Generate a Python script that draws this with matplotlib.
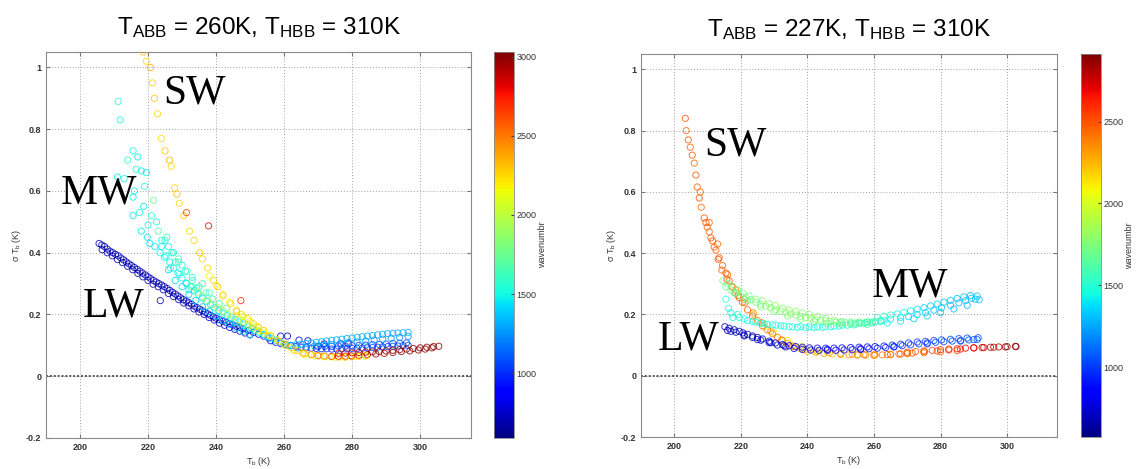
import matplotlib
matplotlib.use("Agg")
import matplotlib.pyplot as plt
from matplotlib import cm
from matplotlib.colors import Normalize

plt.rcParams["font.family"] = ["Liberation Sans", "DejaVu Sans"]
plt.rcParams["mathtext.fontset"] = "custom"
plt.rcParams["mathtext.rm"] = "Liberation Sans"
plt.rcParams["mathtext.it"] = "Liberation Sans"

# ================= left panel: T_ABB = 260K =================
# SW channels (main chain + outliers + yellow under the tail)
left_sw_tb = [218.6, 219.5, 220.7, 221.3, 221.9, 222.8, 223.9, 225.0, 226.3, 226.8, 227.8, 228.5,
              229.2, 230.5, 232.2, 233.5, 235.2, 236.0, 237.5, 239.3, 240.5, 242.0, 244.3, 246.0,
              247.5, 249.3, 251.0, 252.5, 254.0, 256.0, 258.5, 260.5, 263.0, 265.5, 268.0, 270.0,
              271.8, 274.0, 276.0, 278.0, 279.8, 282.0, 284.5, 287.0, 289.5, 292.0, 294.5, 297.0,
              299.5, 301.5, 303.5, 305.5, 231.3, 237.8, 247.3, 266.0, 269.0, 272.0, 275.0, 278.0,
              281.0, 284.0]
left_sw_sig = [1.05, 1.02, 1.0, 0.95, 0.9, 0.85, 0.77, 0.73, 0.70, 0.68, 0.61, 0.59,
               0.56, 0.52, 0.47, 0.44, 0.40, 0.38, 0.35, 0.31, 0.29, 0.26, 0.235, 0.21,
               0.20, 0.187, 0.17, 0.158, 0.148, 0.13, 0.113, 0.10, 0.084, 0.075, 0.07, 0.067,
               0.065, 0.064, 0.065, 0.065, 0.066, 0.068, 0.07, 0.072, 0.074, 0.077, 0.08, 0.082,
               0.085, 0.088, 0.092, 0.097, 0.53, 0.487, 0.245, 0.07, 0.066, 0.063, 0.062, 0.062,
               0.064, 0.066]
left_sw_wn = [2300, 2250, 2350, 2250, 2300, 2250, 2250, 2300, 2350, 2250, 2250, 2300,
              2250, 2300, 2250, 2250, 2300, 2250, 2250, 2250, 2300, 2250, 2250, 2300,
              2250, 2250, 2250, 2300, 2250, 2250, 2250, 2300, 2300, 2350, 2450, 2550,
              2650, 2750, 2800, 2850, 2900, 2900, 2950, 2950, 2950, 3000, 3000, 3000,
              3000, 3000, 3000, 3000, 2650, 2800, 2700, 2200, 2200, 2150, 2200, 2250,
              2200, 2250]
left_sw2_tb = [238, 240, 242, 244, 246, 248, 250, 252, 254, 256, 258, 260,
               262, 264, 266, 268, 270, 272, 274, 276, 278, 280, 282, 284]
left_sw2_sig = [0.325, 0.295, 0.265, 0.24, 0.215, 0.195, 0.178, 0.162, 0.148, 0.133, 0.118, 0.105,
                0.092, 0.083, 0.075, 0.07, 0.066, 0.064, 0.063, 0.062, 0.062, 0.063, 0.064, 0.066]
left_sw2_wn = [2200, 2150, 2200, 2150, 2200, 2150, 2200, 2150, 2200, 2150, 2200, 2250,
               2200, 2250, 2300, 2250, 2300, 2250, 2200, 2300, 2250, 2300, 2250, 2300]
left_sw3_tb = [276, 278, 280, 282, 284, 286, 288, 290, 292, 294, 296, 298, 300, 302, 304]
left_sw3_sig = [0.074, 0.075, 0.076, 0.077, 0.078, 0.079, 0.08, 0.082, 0.084, 0.086, 0.088,
                0.09, 0.092, 0.094, 0.096]
left_sw3_wn = [2850, 2900, 2900, 2950, 2950, 3000, 3000, 3000, 3000, 3000, 3000,
               3000, 3000, 3000, 3000]

# MW channels: scattered points at low Tb, cyan band, green band, light blue tail
left_mw_tb = [211.2, 211.8, 215.6, 217.0, 214.0, 218.0, 211.0, 219.0, 215.6, 221.6, 218.7, 215.6,
              220.0, 223.0, 219.8, 224.0, 222.0, 224.8, 226.6, 228.0, 229.2, 231.3, 234.3,
              216.0, 217.5, 218.0, 221.0, 222.5, 220.5, 223.5, 225.5, 226.0, 227.5, 229.0, 230.0,
              231.5, 233.0, 232.0, 236.0, 238.0, 213.0, 216.5, 219.5]
left_mw_sig = [0.89, 0.83, 0.73, 0.71, 0.70, 0.665, 0.645, 0.615, 0.58, 0.57, 0.55, 0.52,
               0.49, 0.47, 0.45, 0.44, 0.42, 0.385, 0.35, 0.37, 0.33, 0.30, 0.285,
               0.60, 0.53, 0.47, 0.52, 0.50, 0.43, 0.40, 0.45, 0.42, 0.40, 0.38, 0.36,
               0.34, 0.32, 0.28, 0.30, 0.27, 0.64, 0.67, 0.66]
left_mw_wn = [1550, 1500, 1500, 1450, 1550, 1450, 1450, 1500, 1450, 1750, 1450, 1450,
              1500, 1650, 1450, 1550, 1450, 1500, 1550, 1700, 1500, 1600, 1500,
              1450, 1500, 1450, 1550, 1500, 1450, 1500, 1600, 1500, 1550, 1650, 1500,
              1600, 1550, 1450, 1700, 1650, 1500, 1550, 1450]
left_cyan_tb = [224, 225.2, 226.4, 227.6, 228.8, 230, 231.2, 232.4, 233.6, 234.8, 236, 237.2,
                238.4, 239.6, 240.8, 242, 243.2, 244.4, 245.6, 246.8, 248, 249.2, 250.4, 251.6,
                252.8, 254, 255.2, 256.4, 257.6, 258.8, 260, 261.2,
                226, 228, 230, 232, 234, 236, 238, 240, 242, 244, 246, 248, 250,
                225, 227, 229, 231, 233, 235, 237, 239, 241, 243]
left_cyan_sig = [0.42, 0.39, 0.37, 0.35, 0.335, 0.318, 0.302, 0.29, 0.277, 0.265, 0.253, 0.242,
                 0.232, 0.222, 0.213, 0.205, 0.197, 0.19, 0.183, 0.176, 0.169, 0.162, 0.155, 0.148,
                 0.141, 0.135, 0.128, 0.122, 0.116, 0.11, 0.104, 0.1,
                 0.345, 0.31, 0.29, 0.265, 0.245, 0.225, 0.21, 0.195, 0.18, 0.168, 0.156, 0.145,
                 0.135,
                 0.44, 0.40, 0.37, 0.34, 0.31, 0.29, 0.27, 0.25, 0.235, 0.22]
left_cyan_wn = [1450, 1500, 1450, 1500, 1450, 1500, 1450, 1500, 1450, 1500, 1450, 1500,
                1450, 1500, 1450, 1500, 1450, 1500, 1450, 1500, 1450, 1500, 1450, 1450,
                1450, 1400, 1450, 1400, 1400, 1400, 1400, 1400,
                1400, 1400, 1400, 1400, 1400, 1400, 1400, 1400, 1400, 1400, 1400, 1400, 1400,
                1550, 1550, 1550, 1600, 1550, 1600, 1600, 1600, 1650, 1650]
left_green_tb = [233, 234.5, 236, 237.5, 239, 240.5, 242, 243.5, 245, 246.5, 248, 249.5,
                 251, 252.5, 254, 255.5]
left_green_sig = [0.29, 0.272, 0.258, 0.245, 0.233, 0.222, 0.212, 0.202, 0.192, 0.183, 0.175,
                  0.166, 0.157, 0.148, 0.14, 0.132]
left_green_wn = [1750, 1800, 1800, 1850, 1850, 1900, 1900, 1950, 1950, 2000, 2000, 2050,
                 2050, 2100, 2100, 2150]
left_mwtail_tb = [262, 263.5, 265, 266.5, 268, 269.5, 271, 272.5, 274, 275.5, 277, 278.5,
                  280, 281.5, 283, 284.5, 286, 287.5, 289, 290.5, 292, 293.5, 295, 296.5,
                  264, 266.5, 269, 271.5, 274, 276.5, 279, 281.5, 284, 286.5, 289, 291.5,
                  294, 296.5]
left_mwtail_sig = [0.1, 0.102, 0.104, 0.106, 0.108, 0.11, 0.112, 0.114, 0.116, 0.118, 0.12,
                   0.122, 0.124, 0.126, 0.128, 0.13, 0.132, 0.134, 0.136, 0.138, 0.139, 0.14,
                   0.141, 0.142,
                   0.092, 0.095, 0.098, 0.1, 0.103, 0.106, 0.109, 0.111, 0.114, 0.117, 0.12,
                   0.123, 0.126, 0.129]
left_mwtail_wn = [1350, 1300, 1350, 1300, 1300, 1300, 1300, 1300, 1300, 1300, 1300, 1300,
                  1300, 1300, 1300, 1300, 1300, 1300, 1300, 1300, 1300, 1300, 1300, 1300,
                  1250, 1250, 1250, 1250, 1250, 1250, 1250, 1250, 1250, 1250, 1250, 1250,
                  1250, 1250]

# LW channels: navy band, blue tail, a few stray points
left_lw_tb = [205.6, 206.4, 207.2, 208.0, 208.8, 209.6, 210.4, 211.2, 212.0, 212.8, 213.6, 214.4,
              215.2, 216.0, 216.8, 217.6, 218.4, 219.2, 220.0, 220.8, 221.6, 222.4, 223.2, 224.0,
              224.8, 225.6, 226.4, 227.2, 228.0, 228.8, 229.6, 230.4, 231.2, 232.0, 232.8, 233.6,
              234.4, 235.2, 236.0, 236.8, 237.6, 238.4, 239.2, 240.0, 241.0, 242.0, 243.0, 244.0,
              245.0, 246.0, 247.0, 248.0, 249.5, 251.0, 252.5, 254.0, 255.5,
              206.5, 208, 209.5, 211, 212.5, 214, 215.5, 217, 218.5, 220, 221.5, 223,
              224.5, 226, 227.5, 229, 230.5, 232, 233.5, 235, 236.5, 238, 239.5, 241,
              242.5, 244, 245.5, 247, 248.5, 250,
              223.6, 259.0, 261.0, 264.4, 267.0, 271.8, 276.8, 278.9]
left_lw_sig = [0.43, 0.425, 0.42, 0.412, 0.405, 0.40, 0.395, 0.39, 0.383, 0.377, 0.37, 0.364,
               0.358, 0.352, 0.346, 0.34, 0.334, 0.328, 0.322, 0.316, 0.31, 0.305, 0.30, 0.295,
               0.29, 0.284, 0.278, 0.272, 0.266, 0.26, 0.254, 0.248, 0.243, 0.238, 0.233, 0.227,
               0.222, 0.217, 0.212, 0.207, 0.202, 0.197, 0.192, 0.188, 0.183, 0.178, 0.174, 0.17,
               0.166, 0.162, 0.158, 0.154, 0.148, 0.142, 0.136, 0.13, 0.124,
               0.410, 0.400, 0.390, 0.378, 0.368, 0.356, 0.345, 0.333, 0.322, 0.31, 0.298, 0.29,
               0.28, 0.268, 0.258, 0.248, 0.237, 0.228, 0.218, 0.208, 0.2, 0.19, 0.182, 0.172,
               0.165, 0.158, 0.152, 0.146, 0.14, 0.134,
               0.245, 0.13, 0.13, 0.117, 0.115, 0.105, 0.105, 0.105]
left_lw_wn = [700, 700, 680, 700, 720, 700, 680, 700, 720, 700, 680, 700,
              720, 700, 700, 720, 700, 700, 720, 700, 700, 720, 700, 720,
              720, 700, 720, 700, 720, 700, 720, 700, 740, 720, 740, 720,
              740, 720, 740, 740, 760, 740, 760, 760, 760, 780, 760, 780,
              780, 780, 800, 800, 800, 820, 820, 840, 840,
              660, 680, 660, 680, 660, 680, 660, 680, 660, 680, 660, 680,
              680, 680, 680, 700, 680, 700, 700, 700, 720, 720, 720, 720,
              740, 740, 740, 760, 760, 760,
              700, 760, 760, 760, 780, 780, 800, 800]
left_lwtail_tb = [256, 257.5, 259, 260.5, 262, 263.5, 265, 266.5, 268, 269.5, 271, 272.5,
                  274, 275.5, 277, 278.5, 280, 281.5, 283, 284.5, 286, 287.5, 289, 290.5,
                  292, 293.5, 295, 296.5,
                  270, 272, 274, 276, 278, 280, 282, 284, 286, 288, 290, 292, 294, 296]
left_lwtail_sig = [0.115, 0.11, 0.106, 0.102, 0.099, 0.096, 0.094, 0.092, 0.091, 0.09, 0.089,
                   0.089, 0.088, 0.088, 0.089, 0.089, 0.09, 0.09, 0.091, 0.092, 0.093, 0.094,
                   0.095, 0.096, 0.097, 0.098, 0.099, 0.1,
                   0.097, 0.097, 0.097, 0.098, 0.098, 0.099, 0.1, 0.101, 0.102, 0.103, 0.104,
                   0.106, 0.107, 0.108]
left_lwtail_wn = [880, 900, 900, 920, 920, 940, 940, 960, 960, 980, 980, 1000,
                  1000, 1000, 1020, 1020, 1020, 1040, 1040, 1040, 1050, 1050, 1050, 1050,
                  1060, 1060, 1060, 1060,
                  950, 960, 980, 1000, 1000, 1020, 1020, 1030, 1040, 1040, 1050, 1050, 1050, 1050]

# ================= right panel: T_ABB = 227K =================
right_sw_tb = [203.3, 203.6, 204.2, 204.8, 205.4, 206.0, 206.5, 206.9, 207.5, 208.1, 209.0, 209.9,
               211.0, 212.0, 213.2, 214.3, 215.8, 217.3, 219.2, 221.2, 223.7, 226.3, 229.0, 232.2,
               235.5, 239.1, 243.0, 246.6, 250.0, 253.5, 257.0, 260.3, 264.0, 268.0, 271.5, 275.2,
               279.0, 282.5, 286.0, 290.0, 293.0, 296.0, 299.5, 302.7,
               207.8, 210.5, 213.0, 216.0, 218.5, 221.0, 224.0, 227.0, 230.0, 234.0, 238.0, 242.0,
               246.0, 250.0, 255.0, 260.0, 265.0, 270.0, 275.0, 280.0, 285.0,
               209.5, 210.5, 211.5, 212.5, 213.5, 214.5, 215.5, 216.5, 217.5, 218.5, 219.5, 220.5,
               222, 223.5, 225, 226.5, 228, 229.5, 231, 232.5, 234, 236, 238]
right_sw_sig = [0.84, 0.80, 0.77, 0.746, 0.72, 0.694, 0.655, 0.616, 0.58, 0.55, 0.515, 0.485,
                0.45, 0.42, 0.38, 0.345, 0.315, 0.29, 0.262, 0.238, 0.205, 0.173, 0.145, 0.117,
                0.098, 0.085, 0.079, 0.075, 0.072, 0.07, 0.069, 0.068, 0.069, 0.071, 0.074, 0.078,
                0.081, 0.084, 0.087, 0.091, 0.092, 0.093, 0.094, 0.095,
                0.60, 0.50, 0.43, 0.33, 0.28, 0.25, 0.20, 0.16, 0.14, 0.115, 0.095, 0.082,
                0.076, 0.072, 0.07, 0.069, 0.07, 0.072, 0.075, 0.078, 0.082,
                0.5, 0.47, 0.44, 0.41, 0.385, 0.36, 0.335, 0.31, 0.29, 0.27, 0.255, 0.24,
                0.215, 0.195, 0.18, 0.163, 0.15, 0.137, 0.125, 0.115, 0.105, 0.095, 0.088]
right_sw_wn = [2500, 2450, 2500, 2450, 2500, 2450, 2500, 2450, 2500, 2450, 2500, 2450,
               2500, 2450, 2500, 2450, 2500, 2450, 2500, 2450, 2400, 2400, 2350, 2350,
               2300, 2250, 2300, 2350, 2400, 2400, 2450, 2450, 2500, 2500, 2500, 2500,
               2550, 2600, 2650, 2700, 2750, 2800, 2850, 2880,
               2450, 2450, 2450, 2400, 2400, 2300, 2150, 2100, 2100, 2100, 2100, 2150,
               2150, 2200, 2200, 2250, 2300, 2350, 2400, 2450, 2500,
               2500, 2450, 2500, 2450, 2500, 2450, 2500, 2450, 2500, 2450, 2500, 2450,
               2450, 2450, 2400, 2450, 2400, 2400, 2400, 2350, 2350, 2300, 2300]
right_sw2_tb = [240, 242.5, 245, 247.5, 250, 252.5, 255, 257.5, 260, 262.5, 265, 267.5, 270,
                270, 272.5, 275, 277.5, 280, 282.5, 285, 287.5, 290, 292.5, 295, 297.5, 300, 302.5]
right_sw2_sig = [0.08, 0.076, 0.073, 0.071, 0.069, 0.068, 0.067, 0.067, 0.067, 0.068, 0.069,
                 0.071, 0.073,
                 0.077, 0.079, 0.081, 0.083, 0.085, 0.087, 0.088, 0.09, 0.091, 0.092, 0.093,
                 0.094, 0.095, 0.096]
right_sw2_wn = [2300, 2250, 2300, 2250, 2300, 2300, 2350, 2350, 2400, 2400, 2450, 2450, 2450,
                2500, 2500, 2550, 2550, 2600, 2600, 2650, 2700, 2700, 2750, 2800, 2800, 2850, 2880]

right_green_tb = [214.6, 216.0, 217.5, 219.0, 220.6, 222.5, 224.5, 226.5, 228.5, 230.4, 232.5, 234.5,
                  236.5, 238.5, 240.6, 243.0, 245.5, 248.0, 250.4, 253.0, 255.5, 258.0, 260.3, 263.0,
                  218.0, 222.0, 226.0, 230.0, 234.0, 238.0, 242.0, 246.0, 250.0, 254.0, 258.0,
                  215.5, 217, 218.5, 220, 221.5, 223, 224.5, 226, 227.5, 229, 230.5, 232,
                  233.5, 235, 236.5, 238, 239.5, 241, 242.5, 244, 245.5, 247, 248.5, 250,
                  251.5, 253, 254.5, 256, 257.5, 259, 260.5, 262]
right_green_sig = [0.31, 0.30, 0.29, 0.28, 0.27, 0.26, 0.25, 0.245, 0.235, 0.23, 0.22, 0.215,
                   0.21, 0.205, 0.20, 0.193, 0.187, 0.181, 0.177, 0.175, 0.175, 0.176, 0.177, 0.181,
                   0.27, 0.245, 0.225, 0.21, 0.195, 0.185, 0.178, 0.172, 0.168, 0.166, 0.167,
                   0.29, 0.28, 0.27, 0.26, 0.255, 0.248, 0.24, 0.233, 0.227, 0.222, 0.216, 0.211,
                   0.206, 0.202, 0.198, 0.194, 0.19, 0.187, 0.184, 0.181, 0.179, 0.177, 0.175,
                   0.174, 0.173, 0.172, 0.172, 0.172, 0.173, 0.174, 0.175, 0.177]
right_green_wn = [1750, 1700, 1750, 1700, 1750, 1700, 1750, 1800, 1750, 1800, 1750, 1800,
                  1800, 1750, 1800, 1800, 1750, 1800, 1750, 1700, 1700, 1650, 1600, 1550,
                  1650, 1650, 1700, 1700, 1750, 1750, 1700, 1700, 1650, 1650, 1600,
                  1700, 1750, 1700, 1750, 1700, 1750, 1700, 1750, 1800, 1750, 1800, 1750,
                  1800, 1750, 1800, 1750, 1800, 1750, 1800, 1750, 1800, 1750, 1750, 1700,
                  1700, 1700, 1650, 1650, 1650, 1600, 1600, 1550]
right_cyan_tb = [215.5, 216.3, 217.6, 219.0, 221.0, 223.5, 225.7, 228.0, 230.5, 233.0, 235.5, 238.0,
                 240.5, 243.0, 245.4, 248.0, 250.5, 253.0, 255.5, 258.0,
                 217, 219.5, 222, 224.5, 227, 229.5, 232, 234.5, 237, 239.5, 242, 244.5,
                 247, 249.5, 252, 254.5, 257, 259.5]
right_cyan_sig = [0.25, 0.22, 0.19, 0.20, 0.185, 0.178, 0.172, 0.168, 0.165, 0.162, 0.16, 0.16,
                  0.159, 0.159, 0.16, 0.162, 0.165, 0.168, 0.172, 0.175,
                  0.205, 0.19, 0.18, 0.175, 0.17, 0.166, 0.163, 0.16, 0.158, 0.157, 0.157, 0.158,
                  0.16, 0.162, 0.165, 0.168, 0.171, 0.174]
right_cyan_wn = [1500, 1450, 1450, 1500, 1450, 1450, 1450, 1500, 1450, 1450, 1500, 1450,
                 1450, 1450, 1500, 1450, 1450, 1500, 1450, 1450,
                 1450, 1500, 1450, 1500, 1450, 1500, 1450, 1500, 1450, 1500, 1450, 1500,
                 1450, 1500, 1450, 1500, 1450, 1500]
right_mwtail_tb = [262.0, 265.0, 268.0, 270.4, 273.0, 275.5, 278.0, 280.3, 283.0, 285.5, 287.5, 289.3,
                   290.5, 291.6,
                   264.0, 268.0, 272.0, 276.0, 280.0, 284.0, 288.0,
                   261, 263, 265, 267, 269, 271, 273, 275, 277, 279, 281, 283, 285, 287, 289, 291]
right_mwtail_sig = [0.18, 0.185, 0.19, 0.193, 0.20, 0.206, 0.214, 0.222, 0.23, 0.238, 0.245, 0.253,
                    0.25, 0.248,
                    0.172, 0.178, 0.186, 0.195, 0.206, 0.218, 0.23,
                    0.19, 0.194, 0.198, 0.202, 0.207, 0.212, 0.217, 0.222, 0.228, 0.234, 0.24,
                    0.246, 0.252, 0.257, 0.262, 0.26]
right_mwtail_wn = [1450, 1400, 1400, 1350, 1350, 1350, 1300, 1300, 1300, 1300, 1300, 1300,
                   1300, 1300,
                   1450, 1400, 1350, 1350, 1300, 1300, 1300,
                   1550, 1500, 1500, 1450, 1450, 1400, 1400, 1350, 1350, 1350, 1300, 1300,
                   1300, 1300, 1300, 1300]

right_lw_tb = [215.2, 216.5, 218.0, 219.5, 220.6, 222.0, 223.5, 225.0, 226.5, 228.5, 230.4, 232.5,
               234.5, 236.5, 238.5, 240.6, 243.0, 245.5, 248.0, 250.4, 253.0, 255.5, 258.0, 260.3,
               263.0, 265.5, 268.0, 270.4, 273.0, 275.5, 278.0, 280.3, 283.0, 285.5, 288.0, 291.3,
               217.0, 221.0, 225.0, 229.0, 233.0, 246.0, 256.0, 266.0, 276.0, 286.0, 290.0,
               216, 218.5, 221, 223.5, 226, 228.5, 231, 233.5, 236, 238.5, 241, 243.5,
               246, 248.5, 251, 253.5, 256, 258.5, 261, 263.5, 266, 268.5, 271, 273.5,
               276, 278.5, 281, 283.5, 286, 288.5, 291]
right_lw_sig = [0.16, 0.155, 0.15, 0.145, 0.14, 0.135, 0.13, 0.125, 0.12, 0.113, 0.107, 0.102,
                0.098, 0.095, 0.093, 0.091, 0.09, 0.09, 0.09, 0.091, 0.092, 0.093, 0.094, 0.095,
                0.097, 0.10, 0.103, 0.107, 0.11, 0.112, 0.115, 0.117, 0.119, 0.121, 0.123, 0.124,
                0.145, 0.13, 0.118, 0.108, 0.098, 0.086, 0.088, 0.094, 0.104, 0.113, 0.118,
                0.148, 0.142, 0.133, 0.125, 0.116, 0.108, 0.1, 0.094, 0.089, 0.086, 0.084, 0.083,
                0.083, 0.083, 0.084, 0.085, 0.086, 0.088, 0.09, 0.092, 0.095, 0.098, 0.101, 0.104,
                0.107, 0.109, 0.111, 0.113, 0.115, 0.117, 0.118]
right_lw_wn = [680, 700, 680, 700, 720, 700, 720, 700, 720, 740, 740, 760,
               760, 780, 780, 800, 800, 820, 820, 840, 860, 860, 880, 900,
               920, 940, 960, 980, 1000, 1000, 1020, 1020, 1040, 1040, 1050, 1050,
               700, 720, 740, 760, 780, 820, 880, 940, 1000, 1040, 1050,
               660, 680, 680, 700, 700, 720, 720, 740, 740, 760, 760, 780,
               800, 800, 820, 840, 860, 880, 900, 920, 940, 960, 980, 1000,
               1000, 1020, 1020, 1040, 1040, 1050, 1050]

panels = [
    {
        "title": r"T$_{\mathrm{ABB}}$ = 260K, T$_{\mathrm{HBB}}$ = 310K",
        "bands": [(left_lw_tb, left_lw_sig, left_lw_wn),
                  (left_lwtail_tb, left_lwtail_sig, left_lwtail_wn),
                  (left_mw_tb, left_mw_sig, left_mw_wn),
                  (left_cyan_tb, left_cyan_sig, left_cyan_wn),
                  (left_mwtail_tb, left_mwtail_sig, left_mwtail_wn),
                  (left_green_tb, left_green_sig, left_green_wn),
                  (left_sw2_tb, left_sw2_sig, left_sw2_wn),
                  (left_sw_tb, left_sw_sig, left_sw_wn),
                  (left_sw3_tb, left_sw3_sig, left_sw3_wn)],
        "wn_range": (590, 3030),
        "cbar_ticks": [1000, 1500, 2000, 2500, 3000],
        "labels": [("SW", 224.5, 0.884), ("MW", 194.4, 0.558), ("LW", 200.9, 0.194)],
        "ax_rect": [0.0404, 0.0661, 0.3728, 0.823],
        "cb_rect": [0.4333, 0.0661, 0.0175, 0.823],
    },
    {
        "title": r"T$_{\mathrm{ABB}}$ = 227K, T$_{\mathrm{HBB}}$ = 310K",
        "bands": [(right_sw_tb, right_sw_sig, right_sw_wn),
                  (right_sw2_tb, right_sw2_sig, right_sw2_wn),
                  (right_cyan_tb, right_cyan_sig, right_cyan_wn),
                  (right_green_tb, right_green_sig, right_green_wn),
                  (right_mwtail_tb, right_mwtail_sig, right_mwtail_wn),
                  (right_lw_tb, right_lw_sig, right_lw_wn)],
        "wn_range": (575, 2912),
        "cbar_ticks": [1000, 1500, 2000, 2500],
        "labels": [("SW", 209.0, 0.72), ("MW", 259.4, 0.257), ("LW", 194.9, 0.085)],
        "ax_rect": [0.5623, 0.0682, 0.3649, 0.8166],
        "cb_rect": [0.9482, 0.0682, 0.0175, 0.8166],
    },
]


def draw_panel(fig, panel):
    ax = fig.add_axes(panel["ax_rect"])
    cax = fig.add_axes(panel["cb_rect"])
    norm = Normalize(*panel["wn_range"])
    cmap = plt.get_cmap("jet")

    for tb, sig, wn in panel["bands"]:
        ax.scatter(tb, sig, s=20, facecolors="none",
                   edgecolors=cmap(norm(wn)), linewidths=0.7, alpha=0.8, zorder=3)

    ax.set_xlim(190, 315)
    ax.set_ylim(-0.2, 1.05)
    ax.set_xticks([200, 220, 240, 260, 280, 300])
    ax.set_yticks([-0.2, 0, 0.2, 0.4, 0.6, 0.8, 1])
    ax.set_yticklabels(["-0.2", "0", "0.2", "0.4", "0.6", "0.8", "1"])
    ax.grid(True, color="#a0a0a0", linestyle=(0, (1, 2)), linewidth=0.7)
    ax.axhline(0, color="#555555", linestyle=(0, (1, 1)), linewidth=1.4, zorder=2)
    ax.tick_params(direction="in", length=3, labelsize=6.5, labelcolor="#333333",
                   color="#777777", top=True, right=True)
    for sp in ax.spines.values():
        sp.set_color("#8a8a8a")
        sp.set_linewidth(0.8)
    for lab in ax.get_xticklabels() + ax.get_yticklabels():
        lab.set_fontweight("bold")
    ax.set_xlabel(r"T$_{\mathrm{b}}$ (K)", fontsize=6.5, color="#333333", labelpad=2)
    ax.set_ylabel(r"$\sigma$ T$_{\mathrm{b}}$ (K)", fontsize=6.5, color="#333333", labelpad=2)
    ax.set_title(panel["title"], fontsize=17.5, pad=13)

    for text, x, y in panel["labels"]:
        ax.text(x, y, text, family=["Liberation Serif", "DejaVu Serif"], fontsize=30,
                ha="left", va="baseline", zorder=5)

    sm = cm.ScalarMappable(norm=norm, cmap=cmap)
    cb = fig.colorbar(sm, cax=cax, ticks=panel["cbar_ticks"])
    cb.outline.set_edgecolor("#8a8a8a")
    cb.outline.set_linewidth(0.6)
    cax.tick_params(direction="in", length=2, labelsize=6.5, labelcolor="#333333",
                    color="#444444", pad=2)
    cb.set_label("wavenumbr", fontsize=6.5, color="#333333", labelpad=1)


def main():
    fig = plt.figure(figsize=(11.4, 4.69), dpi=100)
    for panel in panels:
        draw_panel(fig, panel)
    fig.savefig("out.png", dpi=100)


if __name__ == "__main__":
    main()
